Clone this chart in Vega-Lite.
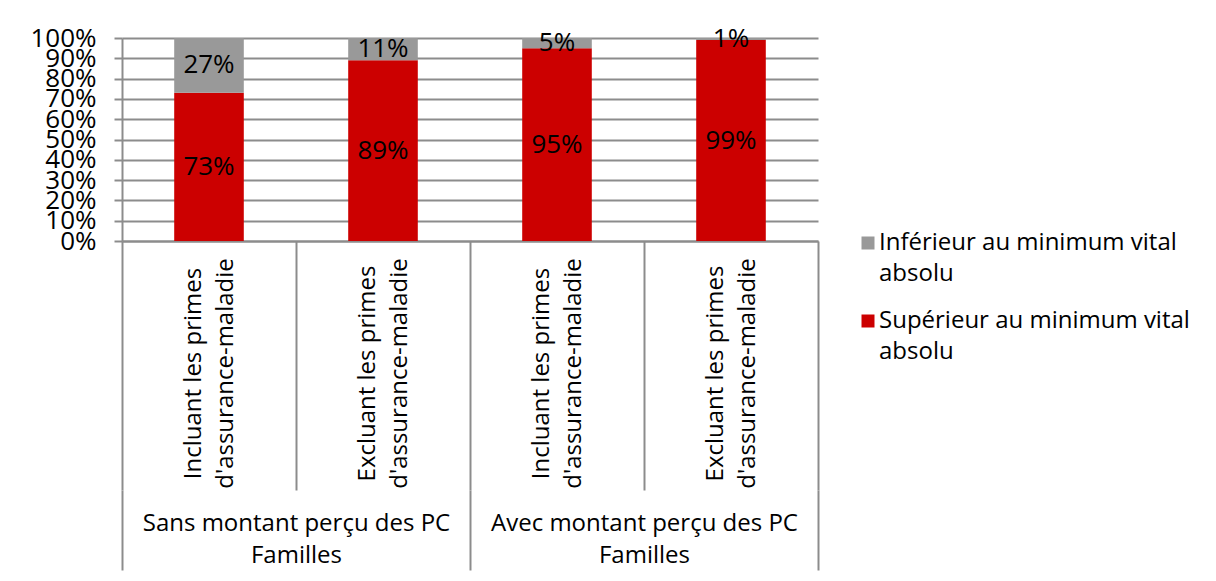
{
  "$schema": "https://vega.github.io/schema/vega-lite/v6.json",
  "width": 696,
  "height": 203,
  "autosize": {"type": "none"},
  "padding": {"left": 122, "top": 38, "right": 398, "bottom": 340},
  "background": "white",
  "config": {
    "font": "Open Sans",
    "view": {"stroke": null},
    "axis": {"labelColor": "#000000", "labelFont": "Open Sans"},
    "legend": {"labelFont": "Open Sans"},
    "style": {"guide-label": {"lineHeight": 31}}
  },
  "data": {
    "values": [
      {"groupe": "Sans montant perçu des PC Familles", "barre": "Sans montant perçu des PC Familles / Incluant les primes d'assurance-maladie", "segment": "Supérieur au minimum vital absolu", "ordre": 1, "valeur": 0.73},
      {"groupe": "Sans montant perçu des PC Familles", "barre": "Sans montant perçu des PC Familles / Incluant les primes d'assurance-maladie", "segment": "Inférieur au minimum vital absolu", "ordre": 2, "valeur": 0.27},
      {"groupe": "Sans montant perçu des PC Familles", "barre": "Sans montant perçu des PC Familles / Excluant les primes d'assurance-maladie", "segment": "Supérieur au minimum vital absolu", "ordre": 1, "valeur": 0.89},
      {"groupe": "Sans montant perçu des PC Familles", "barre": "Sans montant perçu des PC Familles / Excluant les primes d'assurance-maladie", "segment": "Inférieur au minimum vital absolu", "ordre": 2, "valeur": 0.11},
      {"groupe": "Avec montant perçu des PC Familles", "barre": "Avec montant perçu des PC Familles / Incluant les primes d'assurance-maladie", "segment": "Supérieur au minimum vital absolu", "ordre": 1, "valeur": 0.95},
      {"groupe": "Avec montant perçu des PC Familles", "barre": "Avec montant perçu des PC Familles / Incluant les primes d'assurance-maladie", "segment": "Inférieur au minimum vital absolu", "ordre": 2, "valeur": 0.05},
      {"groupe": "Avec montant perçu des PC Familles", "barre": "Avec montant perçu des PC Familles / Excluant les primes d'assurance-maladie", "segment": "Supérieur au minimum vital absolu", "ordre": 1, "valeur": 0.99},
      {"groupe": "Avec montant perçu des PC Familles", "barre": "Avec montant perçu des PC Familles / Excluant les primes d'assurance-maladie", "segment": "Inférieur au minimum vital absolu", "ordre": 2, "valeur": 0.01}
    ]
  },
  "transform": [
    {"stack": "valeur", "groupby": ["barre"], "sort": [{"field": "ordre", "order": "ascending"}], "as": ["v0", "v1"]},
    {"calculate": "(datum.v0 + datum.v1) / 2", "as": "milieu"}
  ],
  "layer": [
    {
      "layer": [
        {
          "mark": {"type": "bar", "width": {"band": 0.4}},
          "encoding": {
            "x": {
              "field": "barre", "type": "nominal", "sort": null,
              "scale": {"paddingInner": 0, "paddingOuter": 0},
              "axis": {
                "orient": "bottom", "title": null,
                "domain": true, "domainColor": "#8c8c8c", "domainWidth": 2,
                "ticks": true, "tickBand": "extent", "tickSize": 249, "tickColor": "#8c8c8c", "tickWidth": 2,
                "labelAngle": -90, "labelAlign": "center", "labelBaseline": "middle",
                "labelPadding": -117, "labelOffset": -16, "labelFontSize": 24, "labelLineHeight": 32,
                "labelLimit": 500, "labelOverlap": false, "labelFlush": false,
                "labelExpr": "isValid(datum.value) ? split(replace(split(datum.value, ' / ')[1], 'primes ', 'primes|'), '|') : ''",
                "grid": false
              }
            },
            "y": {
              "field": "v0", "type": "quantitative",
              "scale": {"domain": [0, 1], "nice": false},
              "axis": {
                "title": null, "values": [0, 0.1, 0.2, 0.3, 0.4, 0.5, 0.6, 0.7, 0.8, 0.9, 1], "tickCount": 11,
                "format": ".0%", "labelFontSize": 26, "labelPadding": 18,
                "labelOverlap": false, "labelFlush": false,
                "domain": true, "domainColor": "#8c8c8c", "domainWidth": 2,
                "ticks": true, "tickSize": 8, "tickColor": "#8c8c8c", "tickWidth": 2,
                "grid": true, "gridColor": "#8c8c8c", "gridWidth": 2
              }
            },
            "y2": {"field": "v1"},
            "color": {
              "field": "segment", "type": "nominal",
              "scale": {"domain": ["Inférieur au minimum vital absolu", "Supérieur au minimum vital absolu"], "range": ["#999999", "#cc0000"]},
              "legend": {
                "orient": "none", "legendX": 734, "legendY": 193, "title": null,
                "symbolType": "square", "symbolSize": 169, "symbolStrokeWidth": 0,
                "labelFontSize": 24, "labelLimit": 500,
                "labelColor": "#000000", "labelOffset": -1, "rowPadding": 23,
                "labelExpr": "split(replace(datum.label, 'vital ', 'vital|'), '|')"
              }
            }
          }
        },
        {
          "mark": {"type": "text", "fontSize": 26, "color": "#000000", "baseline": "middle", "align": "center"},
          "encoding": {
            "x": {"field": "barre", "type": "nominal", "sort": null},
            "y": {
              "field": "milieu", "type": "quantitative",
              "axis": {
                "title": null, "values": [0, 0.1, 0.2, 0.3, 0.4, 0.5, 0.6, 0.7, 0.8, 0.9, 1], "tickCount": 11,
                "format": ".0%", "labelFontSize": 26, "labelPadding": 18,
                "labelOverlap": false, "labelFlush": false,
                "domain": true, "domainColor": "#8c8c8c", "domainWidth": 2,
                "ticks": true, "tickSize": 8, "tickColor": "#8c8c8c", "tickWidth": 2,
                "grid": true, "gridColor": "#8c8c8c", "gridWidth": 2
              }
            },
            "text": {"field": "valeur", "type": "quantitative", "format": ".0%"}
          }
        }
      ]
    },
    {
      "mark": {"type": "text"},
      "encoding": {
        "x": {
          "field": "groupe", "type": "nominal", "sort": null,
          "scale": {"paddingInner": 0, "paddingOuter": 0},
          "axis": {
            "orient": "bottom", "offset": 249, "title": null,
            "domain": false,
            "ticks": true, "tickBand": "extent", "tickSize": 80, "tickColor": "#8c8c8c", "tickWidth": 2,
            "labelAngle": 0, "labelAlign": "center", "labelBaseline": "middle",
            "labelPadding": -47, "labelFontSize": 24, "labelLineHeight": 32,
            "labelLimit": 500, "labelOverlap": false, "labelFlush": false,
            "labelExpr": "isValid(datum.value) ? split(replace(datum.value, 'PC ', 'PC|'), '|') : ''",
            "grid": false
          }
        },
        "text": {"value": ""}
      }
    }
  ],
  "resolve": {"scale": {"x": "independent"}, "axis": {"x": "independent"}}
}
